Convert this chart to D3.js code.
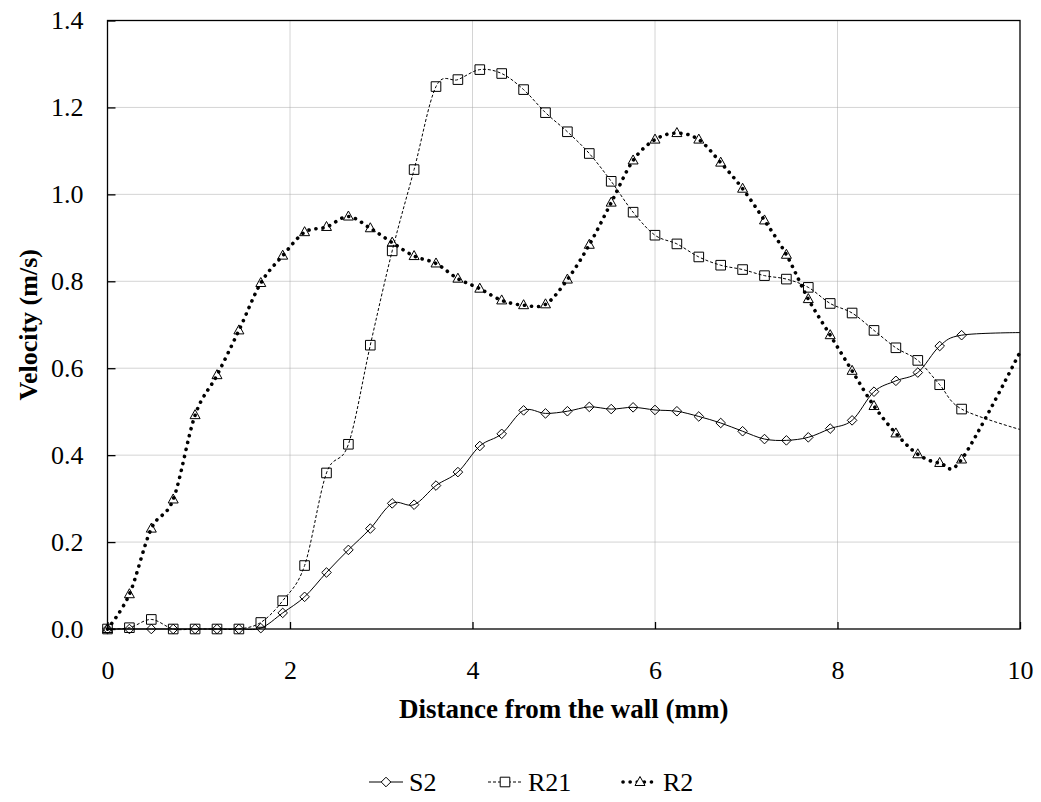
<!DOCTYPE html>
<html>
<head>
<meta charset="utf-8">
<script src="https://cdn.jsdelivr.net/npm/d3@7"></script>
<style>
  body { margin: 0; background: #fff; }
  svg { display: block; }
  text { font-family: "Liberation Serif", "Times New Roman", Times, serif; }
</style>
</head>
<body>
<svg id="chart" width="1041" height="802"></svg>
<script>
// distance from the wall (mm), last point has no marker
var distance = [0, 0.24, 0.48, 0.72, 0.96, 1.2, 1.44, 1.68, 1.92, 2.16, 2.4, 2.64, 2.88, 3.12, 3.36,
  3.6, 3.84, 4.08, 4.32, 4.56, 4.8, 5.04, 5.28, 5.52, 5.76, 6, 6.24, 6.48, 6.72, 6.96, 7.2, 7.44,
  7.68, 7.92, 8.16, 8.4, 8.64, 8.88, 9.12, 9.36, 10];

var s2 = [0, 0, 0, 0, 0, 0, 0, 0.002, 0.037, 0.074, 0.130, 0.182, 0.231, 0.289, 0.286, 0.330,
  0.361, 0.421, 0.449, 0.503, 0.496, 0.501, 0.511, 0.506, 0.510, 0.504, 0.501, 0.489, 0.474,
  0.455, 0.437, 0.434, 0.441, 0.461, 0.480, 0.546, 0.571, 0.590, 0.651, 0.676, 0.682];

var r21 = [0, 0.003, 0.022, 0, 0, 0, 0, 0.015, 0.065, 0.146, 0.359, 0.425, 0.653, 0.870, 1.057,
  1.248, 1.264, 1.287, 1.278, 1.241, 1.188, 1.144, 1.094, 1.030, 0.959, 0.906, 0.886, 0.856,
  0.837, 0.827, 0.813, 0.805, 0.786, 0.749, 0.727, 0.687, 0.647, 0.618, 0.562, 0.506, 0.459];

var r2 = [0, 0.080, 0.231, 0.298, 0.492, 0.584, 0.687, 0.796, 0.859, 0.913, 0.925, 0.949, 0.922,
  0.889, 0.858, 0.841, 0.806, 0.783, 0.756, 0.745, 0.747, 0.804, 0.884, 0.981, 1.078, 1.126,
  1.141, 1.126, 1.073, 1.013, 0.940, 0.861, 0.759, 0.676, 0.594, 0.513, 0.450, 0.402, 0.382,
  0.390, 0.637];

var seriesNames = ["S2", "R21", "R2"];
var xTicks = [0, 2, 4, 6, 8, 10];
var yTicks = [0, 0.2, 0.4, 0.6, 0.8, 1.0, 1.2, 1.4];

var serif = "Liberation Serif";

var margin = { top: 20.5, right: 21, bottom: 173, left: 107.5 };
var width = 1041 - margin.left - margin.right;
var height = 802 - margin.top - margin.bottom;

var svg = d3.select("#chart").attr("font-family", serif);
var g = svg.append("g").attr("transform", "translate(" + margin.left + "," + margin.top + ")");

var x = d3.scaleLinear().domain([0, 10]).range([0, width]);
var y = d3.scaleLinear().domain([0, 1.4]).range([height, 0]);

// grid
g.append("g").selectAll("line").data(xTicks.slice(1, -1)).enter().append("line")
  .attr("x1", function (d) { return x(d); }).attr("x2", function (d) { return x(d); })
  .attr("y1", 0).attr("y2", height)
  .attr("stroke", "#a8a8a8").attr("stroke-dasharray", "1,1");
g.append("g").selectAll("line").data(yTicks.slice(1, -1)).enter().append("line")
  .attr("y1", function (d) { return y(d); }).attr("y2", function (d) { return y(d); })
  .attr("x1", 0).attr("x2", width)
  .attr("stroke", "#a8a8a8").attr("stroke-dasharray", "1,1");

// axes with inside ticks
var xAxis = g.append("g").attr("transform", "translate(0," + height + ")")
  .call(d3.axisBottom(x).tickValues(xTicks).tickFormat(d3.format("d")).tickSizeInner(-7).tickSizeOuter(0).tickPadding(32));
var yAxis = g.append("g")
  .call(d3.axisLeft(y).tickValues(yTicks).tickFormat(d3.format(".1f")).tickSizeInner(-8).tickSizeOuter(0).tickPadding(24));
[xAxis, yAxis].forEach(function (a) {
  a.attr("font-family", serif).attr("font-size", 26);
  a.select(".domain").remove();
  a.selectAll("line").attr("stroke", "#000").attr("stroke-width", 1.3);
  a.selectAll("text").attr("fill", "#000");
});

g.append("rect").attr("width", width).attr("height", height)
  .attr("fill", "none").attr("stroke", "#000").attr("stroke-width", 1.3);

// series
var styles = {
  S2: { values: s2, dash: null, width: 1, cap: "butt", marker: "diamond" },
  R21: { values: r21, dash: "3,2", width: 1, cap: "butt", marker: "square" },
  R2: { values: r2, dash: "0.1,7", width: 3.6, cap: "round", marker: "triangle" }
};

function markerPath(type) {
  if (type === "diamond") return "M0,-4.8L4.8,0L0,4.8L-4.8,0Z";
  if (type === "square") return "M-4.8,-4.8H4.8V4.8H-4.8Z";
  return "M0,-5.5L5,3.5H-5Z";
}

var line = d3.line()
  .x(function (d) { return x(d.x); })
  .y(function (d) { return y(d.y); })
  .curve(d3.curveCardinal.tension(0));

seriesNames.forEach(function (name) {
  var st = styles[name];
  var pts = distance.map(function (d, i) { return { x: d, y: st.values[i] }; });
  g.append("path").datum(pts)
    .attr("d", line)
    .attr("fill", "none")
    .attr("stroke", "#000")
    .attr("stroke-width", st.width)
    .attr("stroke-linecap", st.cap)
    .attr("stroke-dasharray", st.dash);
  g.append("g").selectAll("path").data(pts.filter(function (p) { return p.x < 10; })).enter().append("path")
    .attr("transform", function (d) { return "translate(" + x(d.x) + "," + y(d.y) + ")"; })
    .attr("d", markerPath(st.marker))
    .attr("fill", "none")
    .attr("stroke", "#000")
    .attr("stroke-width", 1);
});

// axis titles
svg.append("text")
  .attr("x", margin.left + width / 2).attr("y", 718)
  .attr("text-anchor", "middle").attr("font-size", 27).attr("font-weight", "bold")
  .text("Distance from the wall (mm)");
svg.append("text")
  .attr("transform", "translate(37," + (margin.top + height / 2) + ") rotate(-90)")
  .attr("text-anchor", "middle").attr("font-size", 26).attr("font-weight", "bold")
  .text("Velocity (m/s)");

// legend
var legendX = [369, 488, 623];
var legendY = 782;
seriesNames.forEach(function (name, i) {
  var st = styles[name];
  var lg = svg.append("g").attr("transform", "translate(" + legendX[i] + "," + legendY + ")");
  lg.append("line").attr("x1", 0).attr("x2", 34).attr("y1", 0).attr("y2", 0)
    .attr("stroke", "#000").attr("stroke-width", st.width)
    .attr("stroke-linecap", st.cap).attr("stroke-dasharray", st.dash);
  lg.append("path").attr("transform", "translate(17,0)")
    .attr("d", markerPath(st.marker)).attr("fill", "#fff").attr("stroke", "#000");
  lg.append("text").attr("x", 40).attr("y", 9)
    .attr("font-size", 26).text(name);
});
</script>
</body>
</html>
